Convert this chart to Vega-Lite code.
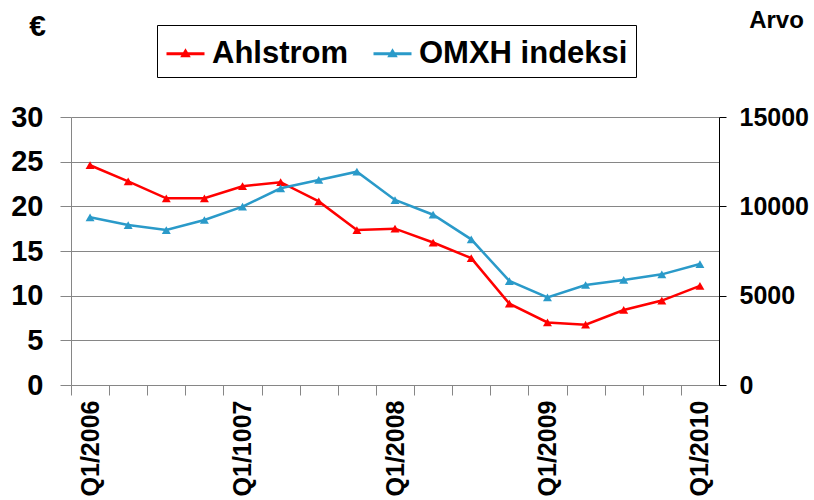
{
  "$schema": "https://vega.github.io/schema/vega-lite/v6.json",
  "width": 648,
  "height": 268,
  "autosize": {"type": "none"},
  "padding": {"left": 71, "top": 117, "right": 95, "bottom": 115},
  "background": "white",
  "config": {"font": "Liberation Sans", "view": {"stroke": null}},
  "data": {
    "values": [
      {"q": "Q1/2006", "s": "Ahlstrom", "v": 24.6},
      {"q": "Q2/2006", "s": "Ahlstrom", "v": 22.8},
      {"q": "Q3/2006", "s": "Ahlstrom", "v": 20.9},
      {"q": "Q4/2006", "s": "Ahlstrom", "v": 20.9},
      {"q": "Q1/1007", "s": "Ahlstrom", "v": 22.25},
      {"q": "Q2/2007", "s": "Ahlstrom", "v": 22.7},
      {"q": "Q3/2007", "s": "Ahlstrom", "v": 20.55},
      {"q": "Q4/2007", "s": "Ahlstrom", "v": 17.35},
      {"q": "Q1/2008", "s": "Ahlstrom", "v": 17.5},
      {"q": "Q2/2008", "s": "Ahlstrom", "v": 15.95},
      {"q": "Q3/2008", "s": "Ahlstrom", "v": 14.2},
      {"q": "Q4/2008", "s": "Ahlstrom", "v": 9.1},
      {"q": "Q1/2009", "s": "Ahlstrom", "v": 7.0},
      {"q": "Q2/2009", "s": "Ahlstrom", "v": 6.75},
      {"q": "Q3/2009", "s": "Ahlstrom", "v": 8.4},
      {"q": "Q4/2009", "s": "Ahlstrom", "v": 9.45},
      {"q": "Q1/2010", "s": "Ahlstrom", "v": 11.1},
      {"q": "Q1/2006", "s": "OMXH indeksi", "v": 9385},
      {"q": "Q2/2006", "s": "OMXH indeksi", "v": 8955},
      {"q": "Q3/2006", "s": "OMXH indeksi", "v": 8675},
      {"q": "Q4/2006", "s": "OMXH indeksi", "v": 9235},
      {"q": "Q1/1007", "s": "OMXH indeksi", "v": 9980},
      {"q": "Q2/2007", "s": "OMXH indeksi", "v": 11010},
      {"q": "Q3/2007", "s": "OMXH indeksi", "v": 11474},
      {"q": "Q4/2007", "s": "OMXH indeksi", "v": 11940},
      {"q": "Q1/2008", "s": "OMXH indeksi", "v": 10354},
      {"q": "Q2/2008", "s": "OMXH indeksi", "v": 9530},
      {"q": "Q3/2008", "s": "OMXH indeksi", "v": 8153},
      {"q": "Q4/2008", "s": "OMXH indeksi", "v": 5820},
      {"q": "Q1/2009", "s": "OMXH indeksi", "v": 4907},
      {"q": "Q2/2009", "s": "OMXH indeksi", "v": 5597},
      {"q": "Q3/2009", "s": "OMXH indeksi", "v": 5877},
      {"q": "Q4/2009", "s": "OMXH indeksi", "v": 6194},
      {"q": "Q1/2010", "s": "OMXH indeksi", "v": 6772}
    ]
  },
  "encoding": {
    "x": {
      "field": "q",
      "type": "ordinal",
      "sort": null,
      "scale": {"type": "point", "padding": 0.5},
      "axis": {
        "title": null,
        "labelAngle": 270,
        "labelExpr": "indexof(datum.value, 'Q1/') == 0 ? datum.value : ''",
        "tickOffset": -19.06,
        "labelOffset": 19.06,
        "tickSize": 10,
        "tickColor": "#868686",
        "domainColor": "#868686",
        "labelFont": "Liberation Sans",
        "labelFontSize": 25,
        "labelFontWeight": "bold",
        "labelColor": "black",
        "labelPadding": 5,
        "labelOverlap": false
      }
    }
  },
  "layer": [
    {
      "transform": [{"filter": "datum.s == 'Ahlstrom'"}],
      "mark": {"type": "line", "strokeWidth": 2.5, "point": {"shape": "triangle-up", "size": 80, "filled": true}},
      "encoding": {
        "y": {
          "field": "v",
          "type": "quantitative",
          "scale": {"domain": [0, 30], "nice": false},
          "axis": {
            "orient": "left",
            "values": [0, 5, 10, 15, 20, 25, 30],
            "grid": true,
            "gridColor": "#868686",
            "gridWidth": 1,
            "domainColor": "#868686",
            "tickColor": "#868686",
            "tickSize": 11,
            "labelPadding": 17,
            "labelFont": "Liberation Sans",
            "labelFontSize": 29,
            "labelFontWeight": "bold",
            "labelColor": "black",
            "labelFlush": false,
            "labelOverlap": false,
            "title": "€",
            "titleAngle": 0,
            "titleX": -34,
            "titleY": -91,
            "titleFont": "Liberation Sans",
            "titleFontSize": 30,
            "titleFontWeight": "bold",
            "titleColor": "black",
            "titleAlign": "center",
            "titleBaseline": "middle"
          }
        },
        "color": {
          "field": "s",
          "type": "nominal",
          "scale": {"domain": ["Ahlstrom", "OMXH indeksi"], "range": ["#FF0000", "#2A9AC9"]},
          "legend": {
            "orient": "none",
            "legendX": 86,
            "legendY": -92,
            "direction": "horizontal",
            "title": null,
            "strokeColor": "black",
            "fillColor": "white",
            "padding": 8,
            "symbolType": "M-1,0L1,0M-0.14,0.11L0,-0.13L0.14,0.11Z",
            "symbolSize": 1444,
            "symbolStrokeWidth": 3,
            "labelFont": "Liberation Sans",
            "labelFontSize": 31,
            "labelFontWeight": "bold",
            "labelColor": "black",
            "labelOffset": 6,
            "columnPadding": 18,
            "labelLimit": 400,
            "encode": {"symbols": {"update": {"fill": {"scale": "color", "field": "value"}}}}
          }
        }
      }
    },
    {
      "transform": [{"filter": "datum.s == 'OMXH indeksi'"}],
      "mark": {"type": "line", "strokeWidth": 2.5, "point": {"shape": "triangle-up", "size": 80, "filled": true}},
      "encoding": {
        "y": {
          "field": "v",
          "type": "quantitative",
          "scale": {"domain": [0, 15000], "nice": false},
          "axis": {
            "orient": "right",
            "values": [0, 5000, 10000, 15000],
            "grid": false,
            "domainColor": "black",
            "tickColor": "black",
            "tickSize": 7,
            "labelPadding": 13,
            "labelFont": "Liberation Sans",
            "labelFontSize": 25,
            "labelFontWeight": "bold",
            "labelColor": "black",
            "labelFlush": false,
            "labelOverlap": false,
            "format": "d",
            "title": "Arvo",
            "titleAngle": 0,
            "titleX": 57,
            "titleY": -97,
            "titleFont": "Liberation Sans",
            "titleFontSize": 24,
            "titleFontWeight": "bold",
            "titleColor": "black",
            "titleAlign": "center",
            "titleBaseline": "middle"
          }
        },
        "color": {"field": "s", "type": "nominal"}
      }
    }
  ],
  "resolve": {"scale": {"y": "independent"}}
}
